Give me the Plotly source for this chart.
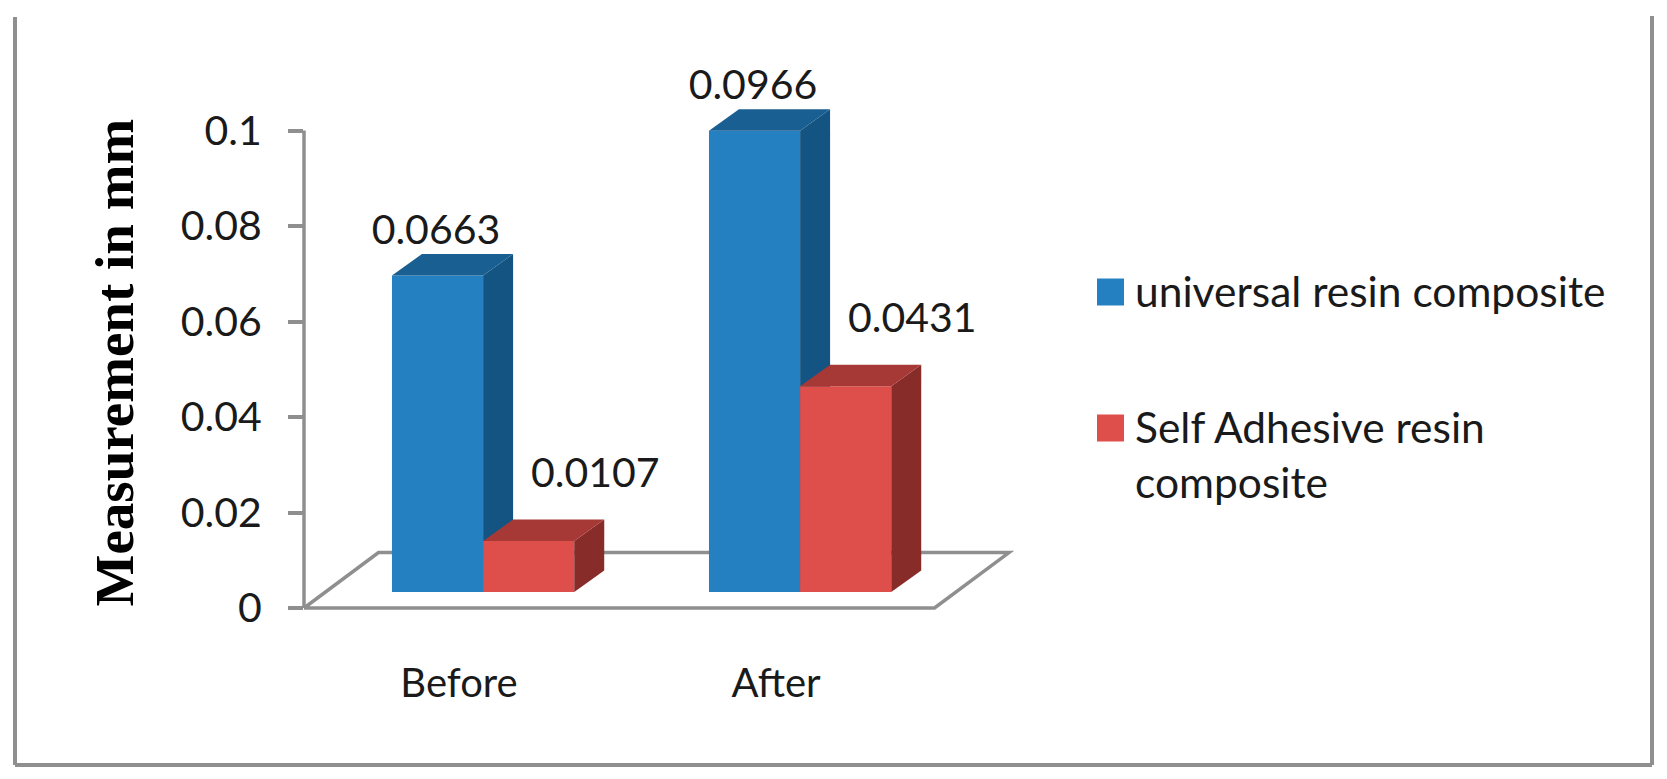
import plotly.graph_objects as go

categories = ["Before", "After"]
universal = [0.0663, 0.0966]
self_adhesive = [0.0107, 0.0431]
series_names = ["universal resin composite", "Self Adhesive resin<br>composite"]
y_ticks = [0, 0.02, 0.04, 0.06, 0.08, 0.1]
y_tick_labels = ["0", "0.02", "0.04", "0.06", "0.08", "0.1"]
y_title = "Measurement in mm"

W, H = 1667, 779
AX_L, AX_B = 304, 608
PX_PER_X, PX_PER_Y = 317.0, 4775.0
FONT = "Lato"
TXT = "#1a1a1a"
GRAY = "#8f8f8f"

BASE = 0.00335             # floor offset of bar feet
DX, DY = 0.0946, 0.00448   # 3D depth in axis units
BAR_W = 0.2875
SHIFT = 0.076
X0, XEND, FLOOR_DX, FLOOR_DY = -0.489, 1.5, 0.235, 0.0116
xr = [X0, 2.0]
yr = [-0.004, 0.125]
xs = list(range(len(categories)))


def faces(x0, x1, v):
    top = BASE + v
    tx = [x0, x0 + DX, x1 + DX, x1, x0]
    ty = [top, top + DY, top + DY, top, top]
    sx = [x1, x1 + DX, x1 + DX, x1, x1]
    sy = [top, top + DY, BASE + DY, BASE, top]
    return (tx, ty), (sx, sy)


def add_series(fig, vals, sign, front, top_c, side_c, xa, ya, name):
    centers = [x + SHIFT + sign * BAR_W / 2 for x in xs]
    fig.add_trace(go.Bar(x=centers, y=vals, base=[BASE] * len(vals), width=BAR_W,
                         marker=dict(color=front, line=dict(width=0)),
                         name=name, showlegend=False, xaxis=xa, yaxis=ya))
    for c, v in zip(centers, vals):
        t, s = faces(c - BAR_W / 2, c + BAR_W / 2, v)
        for (fx, fy), col in ((s, side_c), (t, top_c)):
            fig.add_trace(go.Scatter(x=fx, y=fy, mode="lines", fill="toself", fillcolor=col,
                                     line=dict(width=0, color=col), hoverinfo="skip",
                                     showlegend=False, xaxis=xa, yaxis=ya))


fig = go.Figure()
add_series(fig, universal, -1, "#2480C0", "#1A5F92", "#135482", "x", "y", "universal resin composite")
add_series(fig, self_adhesive, 1, "#DE4E4B", "#A63836", "#882C2A", "x2", "y2", "Self Adhesive resin composite")

# data labels
fig.add_trace(go.Scatter(
    x=[x + SHIFT - BAR_W / 2 - 0.005 for x in xs], y=[v + BASE + 0.0087 for v in universal],
    mode="text", text=[f"{v:.4f}" for v in universal], textposition="middle center",
    textfont=dict(family=FONT, size=41, color=TXT), showlegend=False, xaxis="x2", yaxis="y2", cliponaxis=False))
fig.add_trace(go.Scatter(
    x=[x + SHIFT + BAR_W / 2 + 0.21 for x in xs], y=[v + BASE + 0.0135 for v in self_adhesive],
    mode="text", text=[f"{v:.4f}" for v in self_adhesive], textposition="middle center",
    textfont=dict(family=FONT, size=41, color=TXT), showlegend=False, xaxis="x2", yaxis="y2", cliponaxis=False))

dom_x = [AX_L / W, (AX_L + (xr[1] - xr[0]) * PX_PER_X) / W]
dom_y = [1 - (AX_B - yr[0] * PX_PER_Y) / H, 1 - (AX_B - yr[1] * PX_PER_Y) / H]
fig.update_layout(
    width=W, height=H, margin=dict(l=0, r=0, t=0, b=0), template="none",
    paper_bgcolor="white", plot_bgcolor="rgba(0,0,0,0)", showlegend=False, barmode="overlay",
    xaxis=dict(domain=dom_x, range=xr, tickvals=xs, ticktext=categories, showgrid=False, zeroline=False,
               showline=False, ticks="", ticklabelstandoff=29, automargin=False,
               tickfont=dict(family=FONT, size=40, color=TXT)),
    yaxis=dict(domain=dom_y, range=yr, tickvals=y_ticks, ticktext=y_tick_labels, showgrid=False, zeroline=False,
               showline=False, ticks="outside", ticklen=15, tickwidth=3.5, tickcolor=GRAY, automargin=False,
               ticklabelstandoff=18, tickfont=dict(family=FONT, size=41, color=TXT)),
    xaxis2=dict(domain=dom_x, range=xr, overlaying="x", visible=False),
    yaxis2=dict(domain=dom_y, range=yr, overlaying="y", visible=False),
)

# y-axis line only up to the last tick (paper x so that it is not clipped by the plot area)
fig.add_shape(type="line", xref="paper", yref="y", layer="below", x0=AX_L / W, x1=AX_L / W,
              y0=y_ticks[0], y1=y_ticks[-1], line=dict(color=GRAY, width=3.5))
# floor, drawn beneath the bars, in data units
fig.add_shape(type="path", xref="x", yref="y", layer="below",
              path=f"M {X0},0 L {X0 + FLOOR_DX},{FLOOR_DY} L {XEND + FLOOR_DX},{FLOOR_DY} L {XEND},0 Z",
              line=dict(color=GRAY, width=3.5), fillcolor="white")


def px(x):
    return x / W


def py(y):
    return 1 - y / H


# frame
for x0, y0, x1, y1 in ((15, 17, 15, 765), (15, 765, 1652, 765), (1652, 765, 1652, 16)):
    fig.add_shape(type="line", xref="paper", yref="paper", x0=px(x0), y0=py(y0), x1=px(x1), y1=py(y1),
                  line=dict(color=GRAY, width=4))

# legend key
LEG_X, LEG_S = 1097, 27
for yc, col, name in ((292, "#2480C0", series_names[0]), (428, "#DE4E4B", series_names[1])):
    fig.add_shape(type="rect", xref="paper", yref="paper", x0=px(LEG_X), x1=px(LEG_X + LEG_S),
                  y0=py(yc - LEG_S / 2), y1=py(yc + LEG_S / 2), fillcolor=col, line=dict(width=0))
    fig.add_annotation(xref="paper", yref="paper", x=px(LEG_X + 36), y=py(yc - 29), yanchor="top", xanchor="left",
                       align="left", showarrow=False, text=name, font=dict(family=FONT, size=42.5, color=TXT))

fig.add_annotation(xref="paper", yref="paper", x=px(81), y=py(363), text=y_title, textangle=-90, showarrow=False,
                   font=dict(family="Liberation Serif", size=55, color="#000000", weight="bold"))

fig.write_html("out.html", post_script="document.body.style.margin='0'", config={"displayModeBar": False})
